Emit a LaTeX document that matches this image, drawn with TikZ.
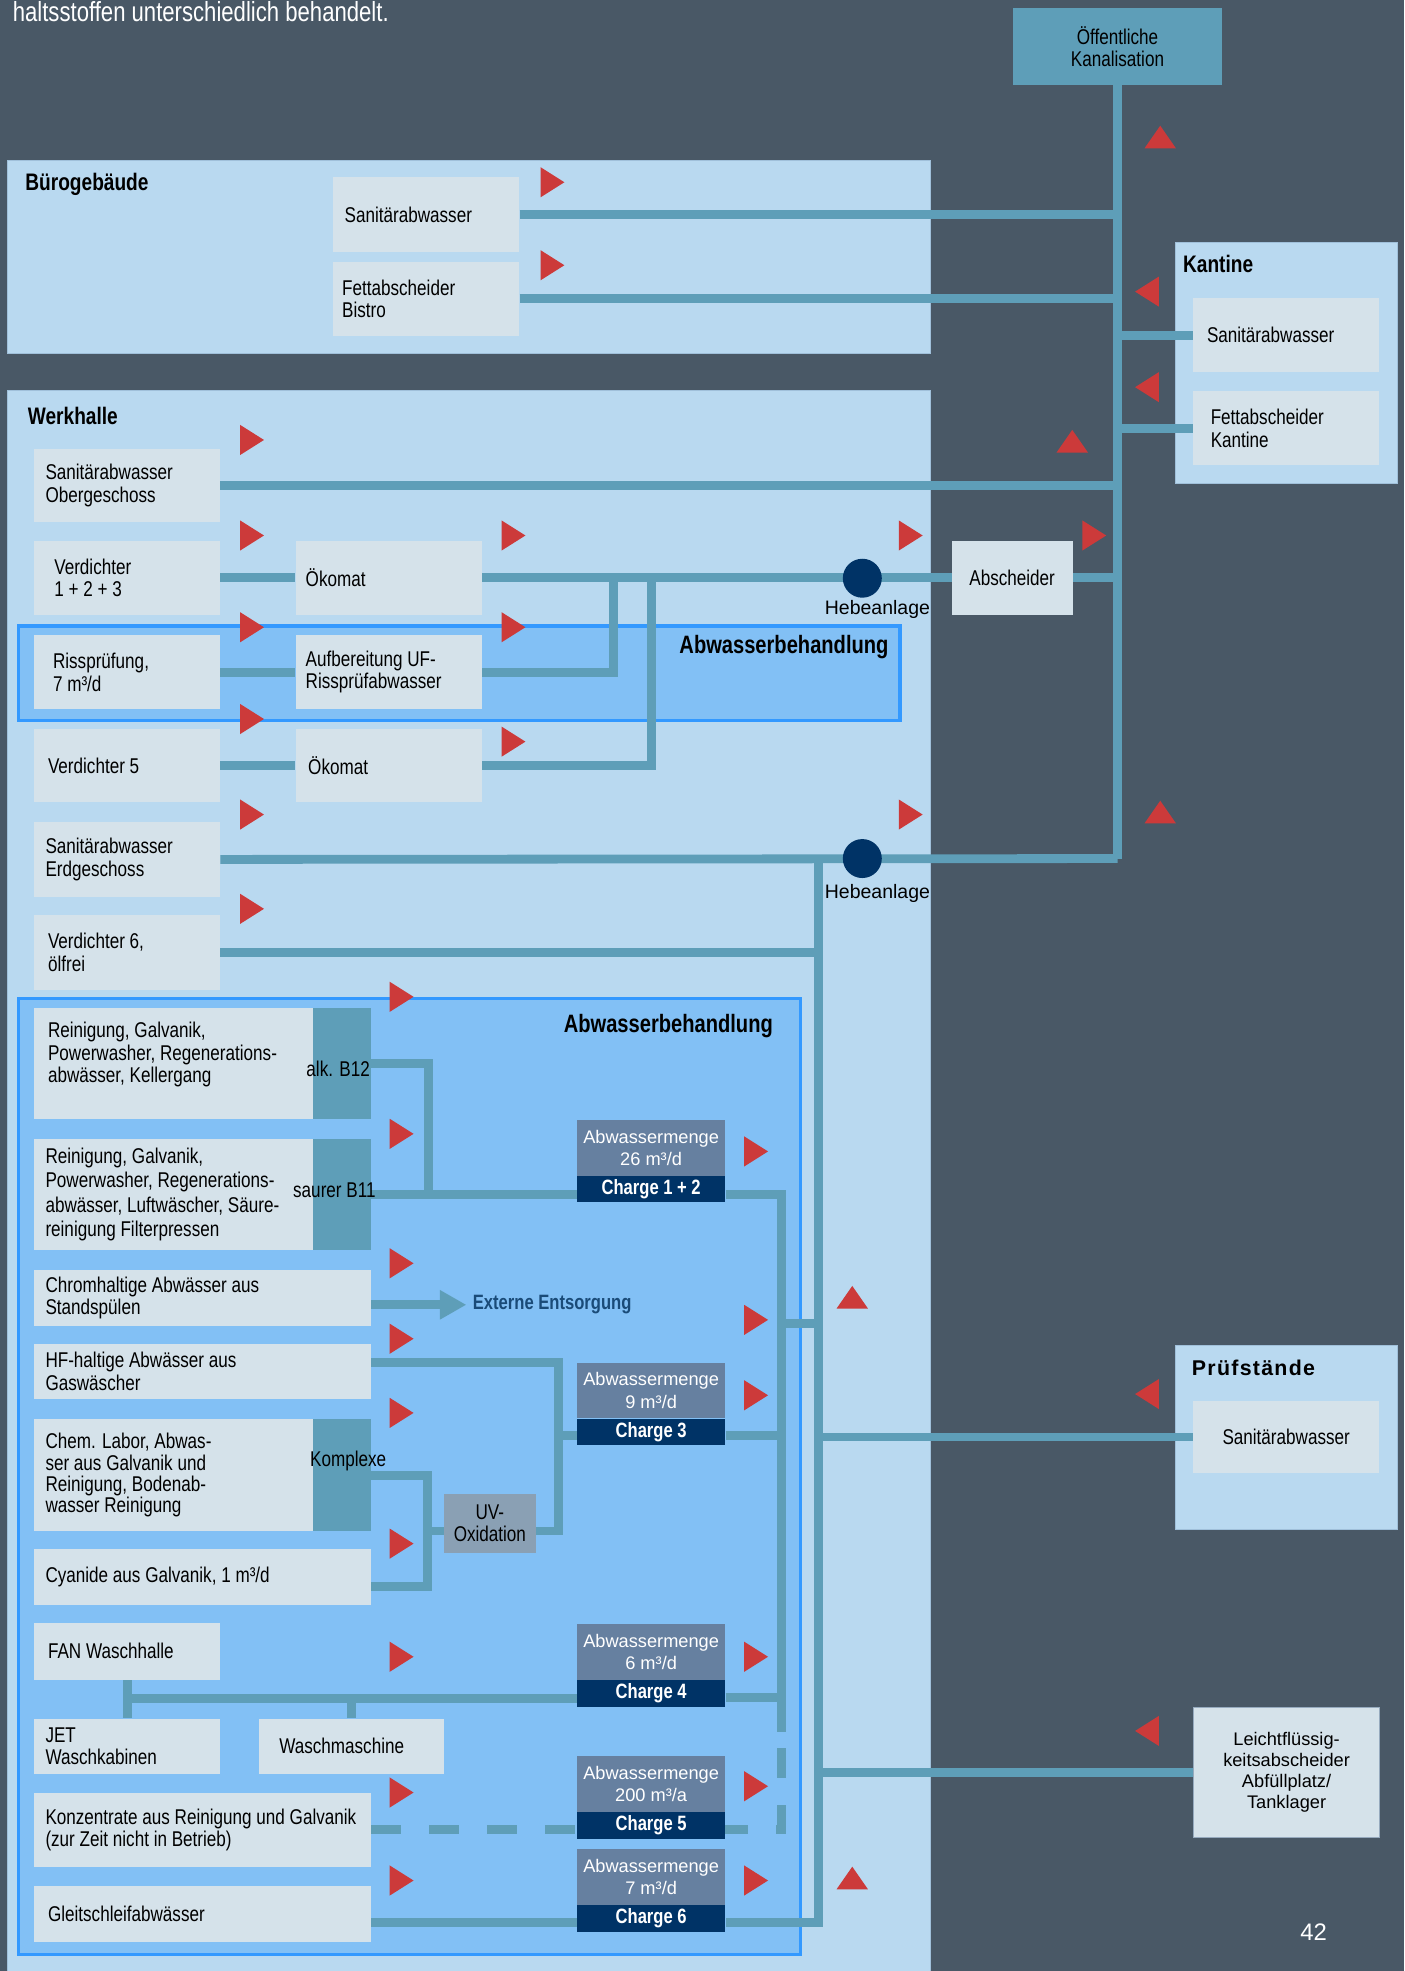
\documentclass[tikz,border=0pt]{standalone}
\usepackage{fontspec}
\setmainfont{Liberation Sans}[FakeStretch=0.8]
\newfontfamily\breit{Liberation Sans}
\newfontfamily\sperr{Liberation Sans}[LetterSpace=6]
\usetikzlibrary{positioning,arrows.meta}

\definecolor{grund}{RGB}{73,88,102}
\definecolor{hausblau}{RGB}{185,217,240}
\definecolor{hausrand}{RGB}{160,192,218}
\definecolor{feldgrau}{RGB}{213,226,234}
\definecolor{rohrblau}{RGB}{94,158,184}
\definecolor{beckenblau}{RGB}{130,192,245}
\definecolor{beckenrand}{RGB}{51,153,255}
\definecolor{mengegrau}{RGB}{102,128,160}
\definecolor{dunkelblau}{RGB}{0,51,102}
\definecolor{uvgrau}{RGB}{138,160,180}
\definecolor{signalrot}{RGB}{204,58,58}
\definecolor{externblau}{RGB}{26,75,120}
\definecolor{randgrau}{RGB}{150,170,190}

\pgfdeclarelayer{hinten}
\pgfdeclarelayer{leitung}
\pgfsetlayers{hinten,leitung,main}

\tikzset{
  txt/.style={font=\fontsize{17}{18}\selectfont},
  kasten/.style={fill=feldgrau, anchor=north west, align=flush left, inner xsep=9pt, inner ysep=0pt, minimum height=#1, txt},
  kasten/.default=58,
  klein/.style={kasten=#1, text width=130pt},
  klein/.default=58,
  mittel/.style={kasten=#1, text width=204pt},
  mittel/.default=88,
  lang/.style={kasten=#1, text width=250pt},
  lang/.default=44,
  streifen/.style={fill=rohrblau, anchor=north west, minimum width=46pt, minimum height=#1, inner sep=0pt},
  streifen/.default=88,
  titel/.style={anchor=west, inner sep=0pt, font=\bfseries\fontsize{19}{22}\selectfont},
  menge/.style={fill=mengegrau, text=white, anchor=north, minimum width=118pt, minimum height=44pt, inner sep=0pt, align=center, font=\breit\fontsize{14.5}{18}\selectfont},
  charge/.style={fill=dunkelblau, text=white, minimum width=118pt, minimum height=21pt, inner sep=0pt, font=\bfseries\fontsize{16.5}{18}\selectfont},
  hebe/.style={circle, fill=dunkelblau, minimum size=31pt, inner sep=0pt},
  hebetxt/.style={inner sep=0pt, font=\breit\fontsize{15.5}{17}\selectfont},
  rohr/.style={draw=rohrblau, line width=7pt},
  haus/.style={fill=hausblau, draw=hausrand, line width=0.8pt},
  becken/.style={fill=beckenblau, draw=beckenrand, line width=2.5pt},
  rechts/.pic={\fill[signalrot] (0,-12) -- (19,0) -- (0,12) -- cycle;},
  links/.pic={\fill[signalrot] (0,-12) -- (-19,0) -- (0,12) -- cycle;},
  hoch/.pic={\fill[signalrot] (-12.5,0) -- (0,-18) -- (12.5,0) -- cycle;},
}

\begin{document}
\begin{tikzpicture}[x=1pt, y=-1pt]
    \useasboundingbox (0,0) rectangle (1117,1568);
    \begin{pgfonlayer}{hinten}
    \fill[grund] (0,0) rectangle (1117,1568);
    \path[haus] (6,128) rectangle (740,281);
    \path[haus] (6,311) rectangle (740,1580);
    \path[haus] (935,193) rectangle (1112,385);
    \path[haus] (935,1070) rectangle (1112,1217);
    \path[becken] (15,498) rectangle (716,573);
    \path[becken] (15,794) rectangle (637,1555);
    \end{pgfonlayer}

    \node[anchor=base west, inner sep=0pt, text=white, font=\fontsize{22}{24}\selectfont] (kopf) at (10,17) {haltsstoffen unterschiedlich behandelt.};
    \node[txt, fill=rohrblau, minimum width=166pt, minimum height=61pt, align=center, inner sep=0pt] (kanal) at (889,37) {Öffentliche\\Kanalisation};

    \node[titel] (tbuero) at (20,147) {Bürogebäude};
    \node[titel] (tkantine) at (941,210) {Kantine};
    \node[titel] (twerk) at (22,331) {Werkhalle};
    \node[titel, font=\bfseries\fontsize{20}{22}\selectfont, anchor=east] (tbeh1) at (707,515) {Abwasserbehandlung};
    \node[titel, font=\bfseries\fontsize{20}{22}\selectfont, anchor=east] (tbeh2) at (615,816) {Abwasserbehandlung};
    \node[titel, font=\sperr\bfseries\fontsize{17}{20}\selectfont] (tpruef) at (948,1088) {Prüfstände};

    \node[klein=59] (bsan) at (265,141) {Sanitärabwasser};
    \node[klein=59, inner xsep=7pt, text width=134pt] (bfett) at (265,208) {Fettabscheider\\Bistro};
    \node[klein=59, inner xsep=11pt, text width=126pt] (ksan) at (949,237) {Sanitärabwasser};
    \node[klein=59, inner xsep=14pt, text width=120pt] (kfett) at (949,311) {Fettabscheider\\Kantine};

    \node[klein=58] (sanog) at (27,357) {Sanitärabwasser\\Obergeschoss};
    \node[klein=59, inner xsep=16pt, text width=116pt] (vd123) at (27,430) {Verdichter\\1 + 2 + 3};
    \node[klein=59, inner xsep=8pt, text width=132pt] (oeko1) at (235,430) {Ökomat};
    \node[kasten=59, text width=96pt, inner xsep=0pt, align=center] (absch) at (757,430) {Abscheider};
    \node[hebe] (heb1) at (686,460) {};
    \node[hebetxt] (heb1t) at (698,485) {Hebeanlage};
    \node[klein=59, inner xsep=15pt, text width=118pt] (riss) at (27,505) {Rissprüfung,\\7 m³/d};
    \node[klein=59, inner xsep=8pt, text width=132pt] (uf) at (235,505) {Aufbereitung UF-\\Rissprüfabwasser};
    \node[klein=58, inner xsep=11pt, text width=126pt] (vd5) at (27,580) {Verdichter 5};
    \node[klein=58, inner xsep=10pt, text width=128pt] (oeko2) at (235,580) {Ökomat};
    \node[klein=59] (saneg) at (27,654) {Sanitärabwasser\\Erdgeschoss};
    \node[hebe] (heb2) at (686,683) {};
    \node[hebetxt] (heb2t) at (698,711) {Hebeanlage};
    \node[klein=59, inner xsep=11pt, text width=126pt] (vd6) at (27,728) {Verdichter 6,\\ölfrei};

    \node[mittel=88, inner xsep=11pt, text width=200pt] (b12q) at (27,802) {Reinigung, Galvanik,\\\mbox{Powerwasher, Regenerations-}\\abwässer, Kellergang\\\mbox{}};
    \node[streifen] (b12) at (249,802) {};
    \node[txt, inner sep=0pt] (b12t) at (269,850) {alk. B12};
    \node[mittel=88, font=\fontsize{17}{19.5}\selectfont] (b11q) at (27,906) {Reinigung, Galvanik,\\\mbox{Powerwasher, Regenerations-}\\\mbox{abwässer, Luftwäscher, Säure-}\\reinigung Filterpressen};
    \node[streifen] (b11) at (249,906) {};
    \node[txt, inner sep=0pt] (b11t) at (266,947) {saurer B11};
    \node[lang=45] (chrom) at (27,1010) {Chromhaltige Abwässer aus\\Standspülen};
    \node[anchor=west, inner sep=0pt, text=externblau, font=\bfseries\fontsize{16.5}{18}\selectfont] (ext) at (376,1038) {Externe Entsorgung};
    \node[lang=44] (hf) at (27,1069) {HF-haltige Abwässer aus\\Gaswäscher};
    \node[mittel=89, font=\fontsize{17}{17}\selectfont] (labor) at (27,1129) {Chem. Labor, Abwas-\\ser aus Galvanik und\\Reinigung, Bodenab-\\wasser Reinigung};
    \node[streifen=89] (kompl) at (249,1129) {};
    \node[txt, inner sep=0pt] (komplt) at (277,1162) {Komplexe};
    \node[txt, fill=uvgrau, anchor=north west, minimum width=73pt, minimum height=47pt, inner sep=0pt, align=center] (uv) at (353,1188) {UV-\\Oxidation};
    \node[lang=45] (cyan) at (27,1232) {\mbox{Cyanide aus Galvanik, 1 m³/d}};
    \node[klein=45, inner xsep=11pt, text width=126pt] (fan) at (27,1291) {FAN Waschhalle};
    \node[klein=44] (jet) at (27,1367) {JET\\Waschkabinen};
    \node[klein=44, inner xsep=16pt, text width=115pt] (wasch) at (206,1367) {Waschmaschine};
    \node[lang=59] (konz) at (27,1426) {\mbox{Konzentrate aus Reinigung und Galvanik}\\(zur Zeit nicht in Betrieb)};
    \node[lang=45, inner xsep=11pt, text width=246pt] (gleit) at (27,1500) {Gleitschleifabwässer};

    \node[menge] (m12) at (518,891) {Abwassermenge\\26 m³/d};
    \node[charge, below=0pt of m12] (c12) {Charge 1 + 2};
    \node[menge] (m3) at (518,1084) {Abwassermenge\\9 m³/d};
    \node[charge, below=0pt of m3] (c3) {Charge 3};
    \node[menge] (m4) at (518,1292) {Abwassermenge\\6 m³/d};
    \node[charge, below=0pt of m4] (c4) {Charge 4};
    \node[menge] (m5) at (518,1397) {Abwassermenge\\200 m³/a};
    \node[charge, below=0pt of m5] (c5) {Charge 5};
    \node[menge] (m6) at (518,1471) {Abwassermenge\\7 m³/d};
    \node[charge, below=0pt of m6] (c6) {Charge 6};

    \node[klein=58, inner xsep=0pt, text width=148pt, align=center] (psan) at (949,1114) {Sanitärabwasser};
    \node[kasten=103, draw=randgrau, line width=1pt, inner xsep=0pt, text width=148pt, align=center, font=\breit\fontsize{14.5}{16.7}\selectfont] (leicht) at (949,1358) {Leichtflüssig-\\keitsabscheider\\Abfüllplatz/\\Tanklager};
    \node[text=white, inner sep=0pt, font=\breit\fontsize{19}{20}\selectfont] (seite) at (1045,1537) {42};

    \coordinate (knick) at (kanal.south |- heb2);
    \coordinate (ufknick) at (488,459);
    \coordinate (oeknick) at (518,459);
    \coordinate (sam) at (651,683);
    \coordinate (bk) at (341,950);
    \coordinate (rk) at (622,1378);
    \coordinate (rq) at (622,1053);
    \coordinate (uvk) at (444,1218);
    \coordinate (lk) at (340,1262);
    \coordinate (wk) at (102,1351);

    \begin{pgfonlayer}{leitung}
    \draw[rohr] (kanal.south) -- (knick);
    \draw[rohr] (bsan.east) -- (bsan.east -| knick);
    \draw[rohr] (bfett.east) -- (bfett.east -| knick);
    \draw[rohr] (ksan.west) -- (ksan.west -| knick);
    \draw[rohr] (kfett.west) -- (kfett.west -| knick);
    \draw[rohr] (sanog.east) -- (sanog.east -| knick);
    \draw[rohr] (vd123.east) -- (oeko1.west);
    \draw[rohr] (oeko1.east) -- (absch.west);
    \draw[rohr] (absch.east) -- (absch.east -| knick);
    \draw[rohr] (riss.east) -- (uf.west);
    \draw[rohr] (uf.east) -| (ufknick);
    \draw[rohr] (vd5.east) -- (oeko2.west);
    \draw[rohr] (oeko2.east) -| (oeknick);
    \draw[rohr] (saneg.east) -- (knick);
    \draw[rohr] (vd6.east) -- (vd6.east -| sam);
    \draw[rohr] (sam) -- ([yshift=-3pt]sam |- c6.east) -- ([yshift=-3pt]c6.east);
    \draw[rohr] (psan.west) -- (psan.west -| sam);
    \draw[rohr] (leicht.west) -- (leicht.west -| sam);
    \draw[rohr] (rq) -- (rq -| sam);
    \draw[rohr] (b12.east) -| (bk);
    \draw[rohr] (b11.east) -- (b11.east -| c12.west);
    \draw[rohr] (c12.east |- b11.east) -| (rk);
    \draw[rohr] ([yshift=-3pt]c3.east) -- ([yshift=-3pt]c3.east -| rk);
    \draw[rohr] ([yshift=-3pt]c4.east) -- ([yshift=-3pt]c4.east -| rk);
    \draw[rohr] ([yshift=7pt]hf.east) -| (uvk) -- (uvk -| uv.east);
    \draw[rohr] ([yshift=-3pt]uvk |- c3.west) -- ([yshift=-3pt]c3.west);
    \draw[rohr] (kompl.east) -| (lk) -- (lk -| cyan.east);
    \draw[rohr] (lk |- uvk) -- (uvk -| uv.west);
    \draw[rohr] (fan.south) -- (jet.north);
    \draw[rohr] (wk) -- (wk -| c4.west);
    \draw[rohr] (wasch.north) -- (wasch.north |- wk);
    \draw[rohr, dash pattern=on 24pt off 22pt] (konz.east) -- (konz.east -| rk) -- (rk);
    \draw[rohr] ([yshift=-3pt]gleit.east |- c6.west) -- ([yshift=-3pt]c6.west);
    \draw[rohr, -{Triangle[length=21pt, width=22pt]}] (chrom.east |- ext.west) -- ([xshift=-5pt]ext.west);
    \end{pgfonlayer}

    \pic at (430,145) {rechts};
    \pic at (430,211) {rechts};
    \pic at (191,350) {rechts};
    \pic at (191,426) {rechts};
    \pic at (399,426) {rechts};
    \pic at (715,426) {rechts};
    \pic at (861,426) {rechts};
    \pic at (191,499) {rechts};
    \pic at (399,499) {rechts};
    \pic at (191,572) {rechts};
    \pic at (399,590) {rechts};
    \pic at (191,648) {rechts};
    \pic at (715,648) {rechts};
    \pic at (191,723) {rechts};
    \pic at (310,793) {rechts};
    \pic at (310,902) {rechts};
    \pic at (592,916) {rechts};
    \pic at (310,1005) {rechts};
    \pic at (592,1050) {rechts};
    \pic at (310,1065) {rechts};
    \pic at (592,1110) {rechts};
    \pic at (310,1124) {rechts};
    \pic at (310,1228) {rechts};
    \pic at (310,1318) {rechts};
    \pic at (592,1318) {rechts};
    \pic at (310,1426) {rechts};
    \pic at (592,1421) {rechts};
    \pic at (310,1496) {rechts};
    \pic at (592,1496) {rechts};
    \pic at (922,232) {links};
    \pic at (922,308) {links};
    \pic at (922,1109) {links};
    \pic at (922,1377) {links};
    \pic at (923,118) {hoch};
    \pic at (853,360) {hoch};
    \pic at (923,655) {hoch};
    \pic at (678,1041) {hoch};
    \pic at (678,1503) {hoch};
\end{tikzpicture}
\end{document}
